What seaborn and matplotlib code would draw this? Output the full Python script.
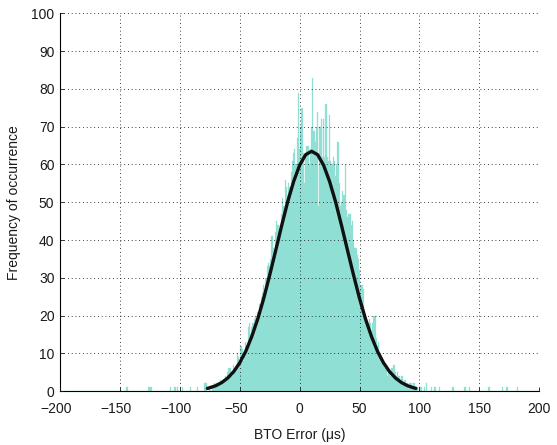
import numpy as np
import pandas as pd
from matplotlib import pyplot as plt
from matplotlib import transforms
import seaborn as sns

# Histogram counts per 1 us bin (main body, bins centred on -79 ... 105)
body_start = -79
body_counts = [2, 2, 0, 0, 1, 0, 1, 1, 2, 1, 2, 2, 2, 3, 2,
               2, 3, 4, 3, 5, 6, 6, 5, 4, 7, 5, 6, 10, 9, 8,
               12, 11, 8, 10, 13, 12, 17, 18, 15, 17, 18, 19, 20, 17, 21,
               20, 23, 25, 26, 28, 27, 30, 33, 34, 33, 35, 41, 38, 36, 42,
               45, 44, 40, 43, 47, 51, 49, 56, 54, 52, 55, 54, 58, 61, 63,
               64, 60, 67, 79, 64, 70, 75, 63, 55, 62, 65, 65, 60, 64, 70,
               83, 69, 66, 70, 74, 49, 70, 72, 62, 72, 62, 76, 62, 61, 73,
               61, 60, 62, 61, 57, 60, 66, 55, 49, 50, 53, 52, 60, 48, 46,
               47, 47, 44, 45, 40, 38, 38, 36, 35, 32, 28, 28, 27, 20, 19,
               19, 17, 19, 18, 16, 18, 20, 20, 14, 12, 13, 10, 9, 8, 7,
               6, 7, 4, 6, 5, 4, 6, 7, 7, 5, 4, 5, 4, 3, 4,
               4, 2, 3, 2, 2, 1, 2, 2, 1, 2, 2, 1, 1, 0, 1,
               1, 1, 0, 1, 0, 2]

# Isolated single hits far from the centre
outlier_centers = [-144, -126, -125, -124, -108, -104, -102, -98, -91, -85,
                   110, 113, 117, 128, 138, 142, 158, 169, 173, 182]
outlier_counts = [1] * len(outlier_centers)

# Fitted normal curve
fit_x = [-77, -75, -70, -65, -60, -55, -50, -45, -40, -35, -30, -25, -20, -15,
         -10, -5, 0, 5, 10, 15, 20, 25, 30, 35, 40, 45, 50, 55, 60, 65, 70,
         75, 80, 85, 90, 95, 97]
fit_y = [0.7, 0.87, 1.41, 2.24, 3.45, 5.15, 7.47, 10.5, 14.4, 19.05, 24.5,
         30.7, 37.2, 43.8, 50.1, 55.5, 59.8, 62.6, 63.5, 62.6, 59.8, 55.5,
         50.1, 43.8, 37.2, 30.7, 24.5, 19.05, 14.4, 10.5, 7.47, 5.15, 3.45,
         2.24, 1.41, 0.87, 0.7]

x_ticks = list(range(-200, 201, 50))
y_ticks = list(range(0, 101, 10))

bar_color = '#90DFD5'

if __name__ == "__main__":
    sns.set_style('ticks')
    plt.rcParams['font.family'] = ['Liberation Sans', 'DejaVu Sans']
    plt.rcParams['font.size'] = 10

    body_centers = list(range(body_start, body_start + len(body_counts)))
    hist_df = pd.DataFrame({
        'center': body_centers + outlier_centers,
        'count': body_counts + outlier_counts,
    })
    fit_df = pd.DataFrame({'x': fit_x, 'y': fit_y})

    fig = plt.figure(figsize=(5.57, 4.45), dpi=100)
    ax = fig.add_axes([0.1077, 0.1213, 0.8605, 0.8484])

    sns.histplot(data=hist_df, x='center', weights='count',
                 binwidth=1, binrange=(-200.5, 200.5),
                 color=bar_color, alpha=1, edgecolor=bar_color, linewidth=0.2,
                 ax=ax)
    sns.lineplot(data=fit_df, x='x', y='y', color='#111111', linewidth=2.4, ax=ax)

    ax.set_xlim(-200, 200)
    ax.set_ylim(0, 100)
    ax.set_xticks(x_ticks)
    ax.set_yticks(y_ticks)
    ax.set_xticklabels([str(t).replace('-', '\u2212') for t in x_ticks])
    ax.grid(True, color='black', linestyle=(0, (1, 3.5)), linewidth=0.6)
    ax.set_axisbelow(False)
    ax.tick_params(direction='in', length=3, width=0.6, labelsize=10,
                   colors='#1a1a1a')
    ax.tick_params(axis='x', pad=8)
    ax.tick_params(axis='y', pad=4)
    for side in ['top', 'right']:
        ax.spines[side].set_visible(False)
    for side in ['left', 'bottom']:
        ax.spines[side].set_linewidth(0.8)
        ax.spines[side].set_color('black')

    # negative labels are centred on the digits, like the original
    shift = transforms.ScaledTranslation(-3.5 / 100, 0, fig.dpi_scale_trans)
    for t, lab in zip(x_ticks, ax.get_xticklabels()):
        if t < 0:
            lab.set_transform(lab.get_transform() + shift)

    ax.set_xlabel('BTO Error (\u03bcs)', fontsize=10, color='#1a1a1a')
    ax.set_ylabel('Frequency of occurrence', fontsize=10, color='#1a1a1a')
    ax.xaxis.set_label_coords(0.5, -0.098)
    ax.yaxis.set_label_coords(-0.082, 0.5)

    plt.savefig('out.png', dpi=100)
